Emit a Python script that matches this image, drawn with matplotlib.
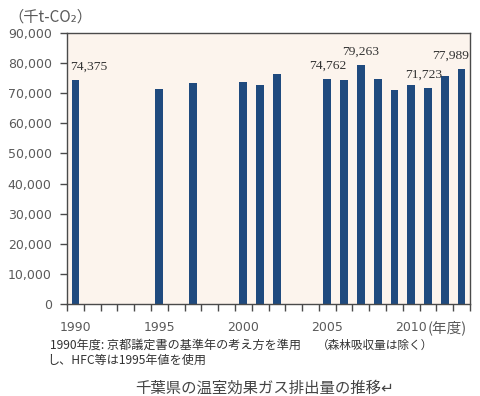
import numpy as np
import matplotlib
matplotlib.use("Agg")
import matplotlib.pyplot as plt
from matplotlib.ticker import FixedLocator, FuncFormatter

plt.rcParams["font.family"] = ["Noto Sans CJK JP", "DejaVu Sans"]

# 温室効果ガス排出量（千t-CO2）、データなしの年は NaN
years = list(range(1990, 2014))
emissions = [74375, np.nan, np.nan, np.nan, np.nan, 71400, np.nan, 73400,
             np.nan, np.nan, 73850, 72850, 76250, np.nan, np.nan, 74762,
             74300, 79263, 74750, 71100, 72850, 71723, 75800, 77989]
labeled_years = [1990, 2005, 2007, 2011, 2013]
label_dx = [9.5, 0, 0, -3, -8]  # points, to keep labels inside the box
tick_years = [1990, 1995, 2000, 2005, 2010]

BAR = "#1f4a7e"
BG = "#fcf4ed"
EDGE = "#4a4a4a"
TICK_TXT = "#5a5a5a"

fig = plt.figure(figsize=(4.8, 3.96), dpi=100)
ax = fig.add_axes([67 / 480, 1 - 304 / 396, (470 - 67) / 480, (304 - 33) / 396])
ax.set_facecolor(BG)

x = np.arange(len(years))
ax.bar(x, emissions, width=0.46, color=BAR, zorder=2)

for yr, dx in zip(labeled_years, label_dx):
    i = years.index(yr)
    ax.annotate(f"{emissions[i]:,.0f}", (i, emissions[i]),
                xytext=(dx, 5.5), textcoords="offset points",
                ha="center", va="bottom", fontsize=9.7,
                family="Liberation Serif", color="#333333")

ax.set_xlim(-0.5, len(years) - 0.5)
ax.set_ylim(0, 90000)

ax.set_yticks(np.arange(0, 90001, 10000))
ax.yaxis.set_major_formatter(FuncFormatter(lambda v, p: f"{v:,.0f}"))
ax.tick_params(axis="y", direction="out", length=5, width=1, color=EDGE,
               pad=6, labelsize=9, labelcolor=TICK_TXT)
for t in ax.get_yticklabels():
    t.set_family("DejaVu Sans")

ax.set_xticks([years.index(y) for y in tick_years])
ax.set_xticklabels([str(y) for y in tick_years])
ax.xaxis.set_minor_locator(FixedLocator(np.arange(-0.5, len(years), 1.0)))
ax.tick_params(axis="x", which="major", length=0, pad=12,
               labelsize=9, labelcolor=TICK_TXT)
ax.tick_params(axis="x", which="minor", direction="out", length=5,
               width=1, color=EDGE)
for t in ax.get_xticklabels():
    t.set_family("DejaVu Sans")

for s in ax.spines.values():
    s.set_color(EDGE)
    s.set_linewidth(1)

fig.text(8 / 480, 1 - 17 / 396, "（千t-CO₂）", ha="left", va="center",
         fontsize=11, color=TICK_TXT)
fig.text(428 / 480, 1 - 328 / 396, "(年度)", ha="left", va="center",
         fontsize=10.5, color=TICK_TXT)
fig.text(50 / 480, 1 - 345 / 396, "1990年度: 京都議定書の基準年の考え方を準用",
         ha="left", va="center", fontsize=8.7, color="#333333")
fig.text(47 / 480, 1 - 360 / 396, "し、HFC等は1995年値を使用",
         ha="left", va="center", fontsize=8.7, color="#333333")
fig.text(317 / 480, 1 - 345 / 396, "（森林吸収量は除く）",
         ha="left", va="center", fontsize=8.4, color="#333333")
fig.text(135 / 480, 1 - 388 / 396, "千葉県の温室効果ガス排出量の推移↵",
         ha="left", va="center", fontsize=11.1, color="#444444")

fig.savefig("out.png", dpi=100, facecolor="white")
